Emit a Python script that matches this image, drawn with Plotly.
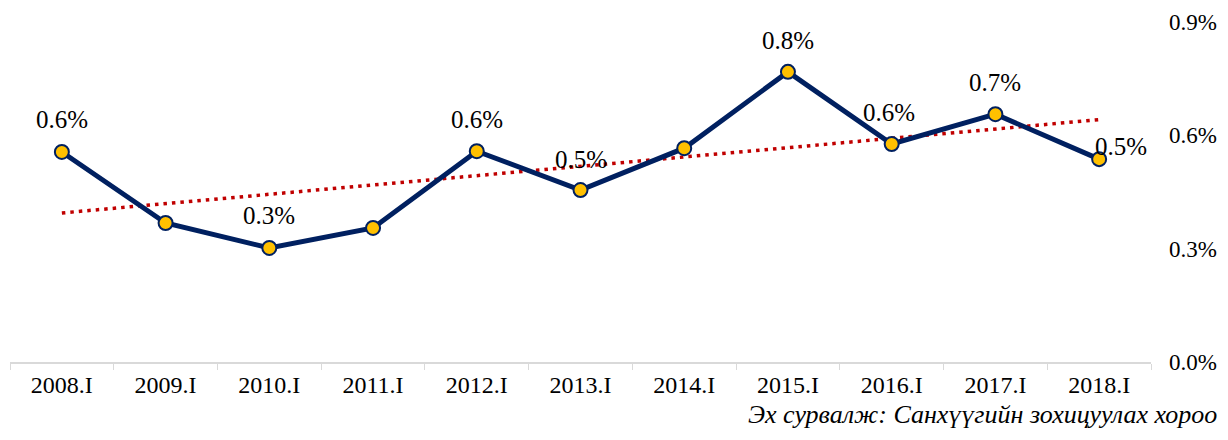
import numpy as np
import plotly.graph_objects as go

categories = ["2008.I", "2009.I", "2010.I", "2011.I", "2012.I", "2013.I",
              "2014.I", "2015.I", "2016.I", "2017.I", "2018.I"]
values = [0.556, 0.368, 0.302, 0.355, 0.558, 0.455, 0.566, 0.768, 0.577, 0.656, 0.537]
labels = ["0.6%", None, "0.3%", None, "0.6%", "0.5%", None, "0.8%", "0.6%", "0.7%", "0.5%"]
label_shift = [(0, 32), None, (0, 32), None, (0, 32), (0, 31), None, (0, 31), (-3, 32), (0, 32), (22, 13)]
y_ticks = [0.0, 0.3, 0.6, 0.9]
source_text = "Эх сурвалж: Санхүүгийн зохицуулах хороо"

serif = "Liberation Serif"

xi = np.arange(len(values))
slope, intercept = np.polyfit(xi, values, 1)
trend = slope * xi + intercept

fig = go.Figure()
fig.add_trace(go.Scatter(
    x=[categories[0], categories[-1]], y=[trend[0], trend[-1]], mode="lines",
    line=dict(color="#C00000", width=3.5, dash="3.5px,5px"),
    showlegend=False, hoverinfo="skip"))
fig.add_trace(go.Scatter(
    x=categories, y=values, mode="lines+markers",
    line=dict(color="#002060", width=5),
    marker=dict(size=14, color="#FFC000", line=dict(color="#002060", width=2)),
    showlegend=False, hoverinfo="skip"))

for c, v, t, s in zip(categories, values, labels, label_shift):
    if t is None:
        continue
    fig.add_annotation(x=c, y=v, text=t, showarrow=False,
                       xshift=s[0], yshift=s[1],
                       font=dict(family=serif, size=25, color="#000000"))

fig.add_annotation(xref="paper", yref="paper", x=1.0, y=0, xanchor="right", yanchor="middle",
                   text="<i>" + source_text + "</i>", showarrow=False,
                   xshift=67, yshift=-52, borderpad=0,
                   font=dict(family=serif, size=26, color="#000000"))

fig.update_xaxes(type="category", categoryorder="array", categoryarray=categories,
                 range=[-0.5, len(categories) - 0.5],
                 showgrid=False, showline=True, linecolor="#D9D9D9", linewidth=1.5, automargin=False,
                 ticks="outside", tickson="boundaries", ticklen=6, tickcolor="#D9D9D9",
                 tickfont=dict(family=serif, size=24, color="#000000"), zeroline=False)
fig.update_yaxes(side="right", range=[0, 0.9], tickvals=y_ticks, automargin=False,
                 ticktext=[f"{v:.1f}%" for v in y_ticks], showgrid=False, zeroline=False,
                 showline=False, ticks="", ticklabelstandoff=17,
                 tickfont=dict(family=serif, size=23, color="#000000"))
fig.update_layout(width=1212, height=424, margin=dict(l=2, r=69, t=14, b=70, autoexpand=False),
                  plot_bgcolor="white", paper_bgcolor="white")
fig.write_html("out.html")
